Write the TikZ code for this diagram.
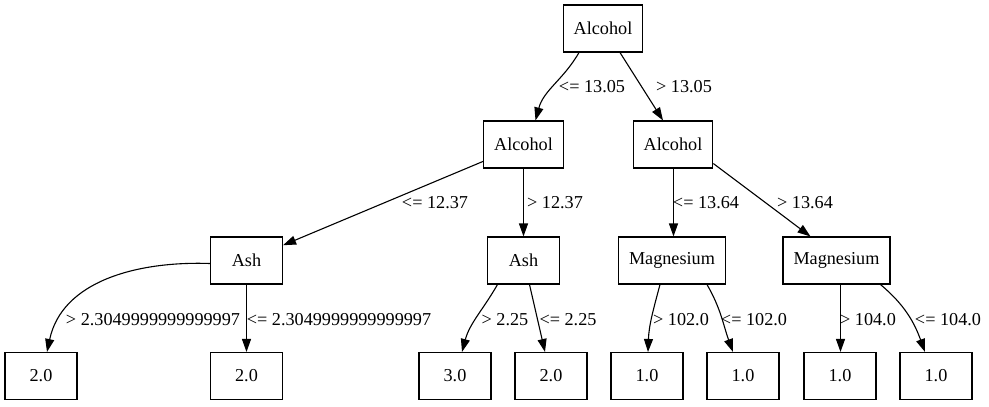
\documentclass[tikz,border=0pt]{standalone}
\usepackage{fontspec}
\setmainfont{Liberation Serif}
\usetikzlibrary{arrows.meta}
\begin{document}
\begin{tikzpicture}[x=1pt,y=1pt,
  box/.style={draw,line width=1.1pt,minimum width=72pt,minimum height=47pt,inner xsep=10.5pt,font=\fontsize{18.2}{22}\selectfont},
  lbl/.style={font=\fontsize{18.2}{22}\selectfont,inner sep=0pt},
  arr/.style={line width=1.1pt,-{Triangle[length=13pt,width=9pt]}}]
\useasboundingbox (0,0) rectangle (989,-407);
% nodes
\node[box] (root) at (603,-28.5) {Alcohol};
\node[box] (l1) at (523.5,-144.5) {Alcohol};
\node[box] (r1) at (673,-144.5) {Alcohol};
\node[box] (ashL) at (246.5,-260.5) {Ash};
\node[box] (ashM) at (523.5,-260.5) {Ash};
\node[box] (mag1) at (672,-260.5) {Magnesium};
\node[box] (mag2) at (836.5,-260.5) {Magnesium};
\node[box] (f1) at (41,-376) {2.0};
\node[box] (f2) at (246.5,-376) {2.0};
\node[box] (f3) at (455,-376) {3.0};
\node[box] (f4) at (551,-376) {2.0};
\node[box] (f5) at (647,-376) {1.0};
\node[box] (f6) at (743,-376) {1.0};
\node[box] (f7) at (840,-376) {1.0};
\node[box] (f8) at (936,-376) {1.0};
% edges
\draw[arr] ([xshift=-24pt]root.south) to[out=240,in=75] ([xshift=12pt]l1.north);
\draw[arr] ([xshift=17pt]root.south) -- ([xshift=-10pt]r1.north);
\draw[arr] (l1) -- (ashL);
\draw[arr] (l1.south) -- (l1.south |- ashM.north);
\draw[arr] ([xshift=0.5pt]r1.south) -- ([xshift=0.5pt]r1.south |- mag1.north);
\draw[arr] ([yshift=5pt]r1.south east) -- ([xshift=-26pt]mag2.north);
\draw[arr] ([yshift=-3pt]ashL.west) to[out=178,in=78] ([xshift=6pt]f1.north);
\draw[arr] (ashL.south) -- (ashL.south |- f2.north);
\draw[arr] ([xshift=-26pt]ashM.south) to[out=240,in=75] ([xshift=7pt]f3.north);
\draw[arr] ([xshift=6pt]ashM.south) -- ([xshift=-6pt]f4.north);
\draw[arr] ([xshift=-12pt]mag1.south) to[out=255,in=88] ([xshift=1pt]f5.north);
\draw[arr] ([xshift=35pt]mag1.south) to[out=300,in=110] ([xshift=-10pt]f6.north);
\draw[arr] ([xshift=4pt]mag2.south) -- ([xshift=4pt]mag2.south |- f7.north);
\draw[arr] ([xshift=44pt]mag2.south) to[out=-40,in=110] ([xshift=-11pt]f8.north);
% labels
\node[lbl] (t1) at (592,-87) {<= 13.05};
\node[lbl] (t2) at (684,-87) {> 13.05};
\node[lbl] (t3) at (435,-203) {<= 12.37};
\node[lbl] (t4) at (555,-203) {> 12.37};
\node[lbl] (t5) at (706,-203) {<= 13.64};
\node[lbl] (t6) at (805,-203) {> 13.64};
\node[lbl] (t7) at (153,-320) {> 2.3049999999999997};
\node[lbl] (t8) at (339,-320) {<= 2.3049999999999997};
\node[lbl] (t9) at (505,-320) {> 2.25};
\node[lbl] (t10) at (568,-320) {<= 2.25};
\node[lbl] (t11) at (681,-320) {> 102.0};
\node[lbl] (t12) at (754,-320) {<= 102.0};
\node[lbl] (t13) at (868,-320) {> 104.0};
\node[lbl] (t14) at (948,-320) {<= 104.0};
\end{tikzpicture}
\end{document}
